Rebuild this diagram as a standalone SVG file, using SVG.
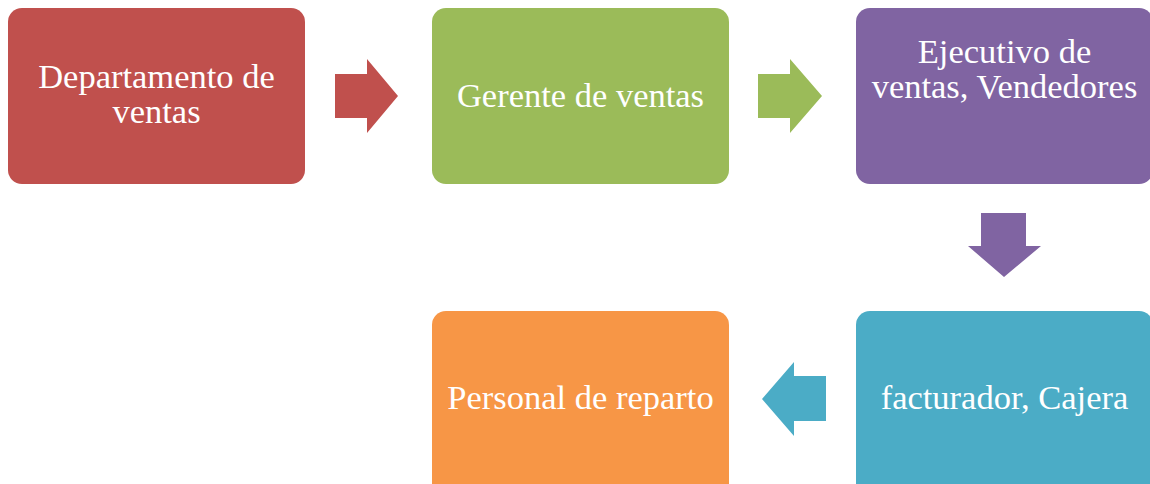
<svg xmlns="http://www.w3.org/2000/svg" width="1150" height="484" viewBox="0 0 1150 484">
<style>
.lbl{font-family:'Liberation Serif','Times New Roman','DejaVu Serif',serif;font-size:34.5px;fill:#ffffff;text-anchor:middle}
</style>
<rect width="1150" height="484" fill="#ffffff"/>
<g id="n1"><rect x="8" y="8" width="297" height="176" rx="14" fill="#C0504D"/><text class="lbl"><tspan x="156.5" y="88">Departamento de</tspan><tspan x="156.5" y="123">ventas</tspan></text></g>
<g id="n2"><rect x="432" y="8" width="297" height="176" rx="14" fill="#9BBB59"/><text class="lbl" x="580.5" y="107">Gerente de ventas</text></g>
<g id="n3"><rect x="856" y="8" width="297" height="176" rx="14" fill="#8064A2"/><text class="lbl"><tspan x="1004.5" y="63">Ejecutivo de</tspan><tspan x="1004.5" y="98">ventas, Vendedores</tspan></text></g>
<g id="n4"><rect x="856" y="311" width="297" height="190" rx="14" fill="#4BACC6"/><text class="lbl" x="1004.5" y="409">facturador, Cajera</text></g>
<g id="n5"><rect x="432" y="311" width="297" height="190" rx="14" fill="#F79646"/><text class="lbl" x="580.5" y="409">Personal de reparto</text></g>
<g id="connectors">
<polygon points="335,74 367,74 367,59 398,96 367,133 367,118 335,118" fill="#C0504D"/>
<polygon points="758,74 790,74 790,59 822,96 790,133 790,118 758,118" fill="#9BBB59"/>
<polygon points="981,213 1026,213 1026,246 1041,246 1004,277 968,246 981,246" fill="#8064A2"/>
<polygon points="826,376 794,376 794,362 762,399 794,436 794,421 826,421" fill="#4BACC6"/>
</g>
</svg>
